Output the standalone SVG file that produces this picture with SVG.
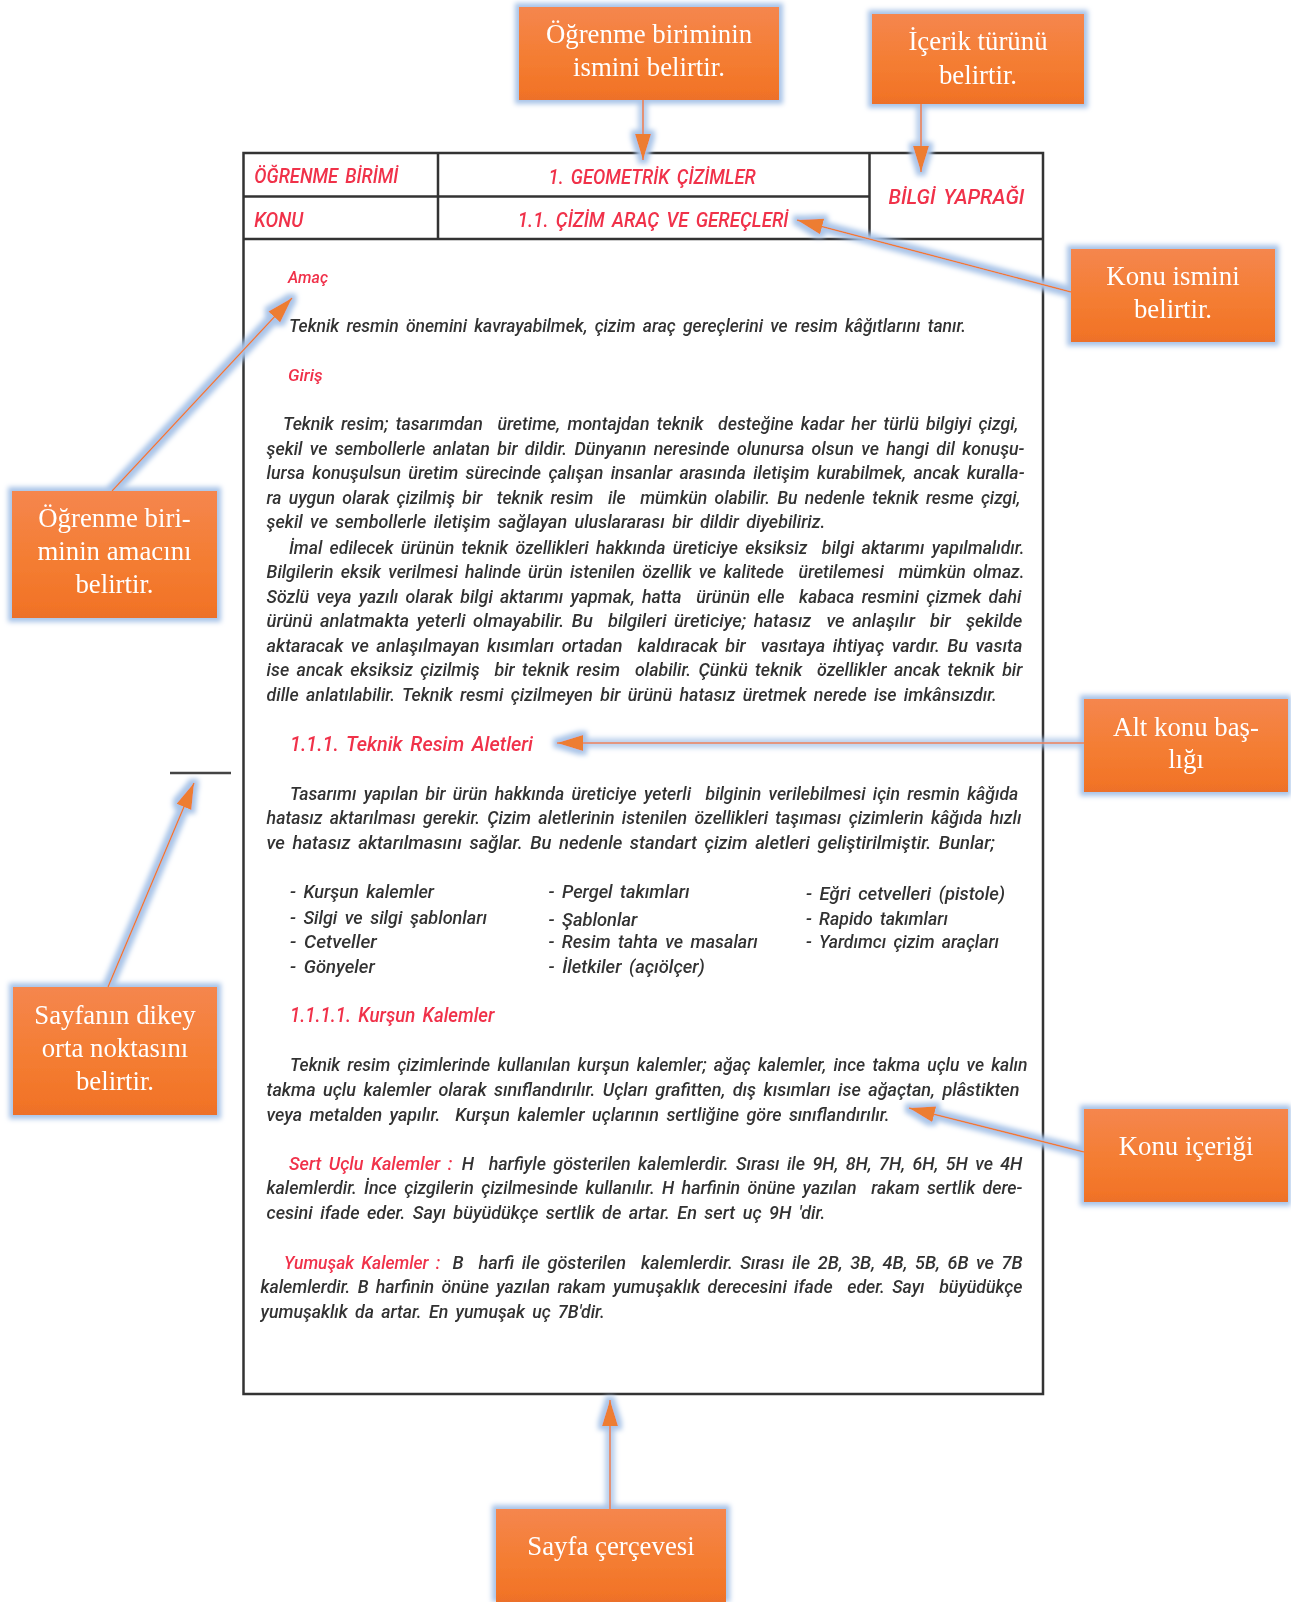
<svg xmlns="http://www.w3.org/2000/svg" width="1291" height="1602" viewBox="0 0 1291 1602">
<defs>
<linearGradient id="boxFill" x1="0" y1="0" x2="0" y2="1"><stop offset="0" stop-color="#f5864e"/><stop offset="0.55" stop-color="#f47d32"/><stop offset="0.9" stop-color="#f27428"/><stop offset="1" stop-color="#ec7029"/></linearGradient>
<filter id="glow" filterUnits="userSpaceOnUse" x="0" y="0" width="1291" height="1602">
<feMorphology in="SourceAlpha" operator="dilate" radius="4" result="d"/>
<feGaussianBlur in="d" stdDeviation="2.8" result="b"/>
<feFlood flood-color="#a9c4e8"/>
<feComposite in2="b" operator="in" result="g"/>
<feMerge><feMergeNode in="g"/><feMergeNode in="SourceGraphic"/></feMerge>
</filter>
<filter id="soft" x="-2%" y="-2%" width="104%" height="104%"><feGaussianBlur stdDeviation="0.4"/></filter>
<marker id="head" markerUnits="userSpaceOnUse" markerWidth="27" markerHeight="18" refX="26" refY="8" orient="auto"><path d="M0,0 L26,8 L0,16 Z" fill="#ed7d31"/></marker>
<clipPath id="outsideBoxes"><path clip-rule="evenodd" d="M0,0H1291V1602H0Z M519,7H779V100H519Z M872,14H1084V104H872Z M1071,249H1275V342H1071Z M12,491H217V618H12Z M1084,699H1288V792H1084Z M13,987H217V1115H13Z M1084,1109H1288V1202H1084Z M496,1509H726V1602H496Z"/></clipPath>
</defs>
<style>
.frame{fill:none;stroke:#333;stroke-width:2.5}
.conn{fill:none;stroke:#ed7d31;stroke-width:1.6;marker-end:url(#head)}
.box{fill:url(#boxFill)}
.lbl{font-family:"Liberation Serif","Times New Roman",serif;font-size:26.8px;fill:#fff;text-anchor:middle}
.t{font-family:Roboto,"Liberation Sans",sans-serif;font-style:italic;font-weight:500;font-size:18px;word-spacing:3px;fill:#333;white-space:pre}
.r{fill:#f0304a}
.h{font-size:21px;fill:#f0304a}
.s{font-size:16px}
</style>
<rect width="1291" height="1602" fill="#fff"/>
<g id="page-frame">
<path class="frame" d="M243.5,153 H1043 V1394 H243.5 Z"/>
<path class="frame" d="M243.5,196.5 H869.5 M243.5,239 H1043 M438,153 V239 M869.5,153 V239"/>
<path d="M170,773 H231" fill="none" stroke="#444" stroke-width="2.5"/>
</g>
<g id="page-text" filter="url(#soft)" transform="translate(0,1)">
<text class="t h" x="254.3" y="181.7" textLength="144" lengthAdjust="spacingAndGlyphs">ÖĞRENME BİRİMİ</text>
<text class="t h" x="548.5" y="182.7" textLength="207.3" lengthAdjust="spacingAndGlyphs">1. GEOMETRİK ÇİZİMLER</text>
<text class="t h" x="254.3" y="225.7" textLength="49" lengthAdjust="spacingAndGlyphs">KONU</text>
<text class="t h" x="517.8" y="225.7" textLength="270.7" lengthAdjust="spacingAndGlyphs">1.1. ÇİZİM ARAÇ VE GEREÇLERİ</text>
<text class="t h" x="888.6" y="203" textLength="135.8" lengthAdjust="spacingAndGlyphs">BİLGİ YAPRAĞI</text>
<text class="t r s" x="288" y="281.9" textLength="40" lengthAdjust="spacingAndGlyphs">Amaç</text>
<text class="t" x="289" y="330.9" textLength="677" lengthAdjust="spacingAndGlyphs">Teknik resmin önemini kavrayabilmek, çizim araç gereçlerini ve resim kâğıtlarını tanır.</text>
<text class="t r s" x="288" y="380" textLength="34.7" lengthAdjust="spacingAndGlyphs">Giriş</text>
<text class="t" x="283" y="429" textLength="735.4" lengthAdjust="spacingAndGlyphs">Teknik resim; tasarımdan  üretime, montajdan teknik  desteğine kadar her türlü bilgiyi çizgi,</text>
<text class="t" x="266.6" y="453.5" textLength="757.9" lengthAdjust="spacingAndGlyphs">şekil ve sembollerle anlatan bir dildir. Dünyanın neresinde olunursa olsun ve hangi dil konuşu-</text>
<text class="t" x="266.6" y="478" textLength="757.9" lengthAdjust="spacingAndGlyphs">lursa konuşulsun üretim sürecinde çalışan insanlar arasında iletişim kurabilmek, ancak kuralla-</text>
<text class="t" x="266.6" y="502.6" textLength="753.8" lengthAdjust="spacingAndGlyphs">ra uygun olarak çizilmiş bir  teknik resim  ile  mümkün olabilir. Bu nedenle teknik resme çizgi,</text>
<text class="t" x="266.6" y="527" textLength="558.7" lengthAdjust="spacingAndGlyphs">şekil ve sembollerle iletişim sağlayan uluslararası bir dildir diyebiliriz.</text>
<text class="t" x="289" y="552.6" textLength="735.4" lengthAdjust="spacingAndGlyphs">İmal edilecek ürünün teknik özellikleri hakkında üreticiye eksiksiz  bilgi aktarımı yapılmalıdır.</text>
<text class="t" x="266.6" y="577" textLength="757.9" lengthAdjust="spacingAndGlyphs">Bilgilerin eksik verilmesi halinde ürün istenilen özellik ve kalitede  üretilemesi  mümkün olmaz.</text>
<text class="t" x="266.6" y="601.7" textLength="754.8" lengthAdjust="spacingAndGlyphs">Sözlü veya yazılı olarak bilgi aktarımı yapmak, hatta  ürünün elle  kabaca resmini çizmek dahi</text>
<text class="t" x="266.6" y="626.2" textLength="755.8" lengthAdjust="spacingAndGlyphs">ürünü anlatmakta yeterli olmayabilir. Bu  bilgileri üreticiye; hatasız  ve anlaşılır  bir  şekilde</text>
<text class="t" x="266.6" y="650.7" textLength="755.8" lengthAdjust="spacingAndGlyphs">aktaracak ve anlaşılmayan kısımları ortadan  kaldıracak bir  vasıtaya ihtiyaç vardır. Bu vasıta</text>
<text class="t" x="266.6" y="675.2" textLength="755.8" lengthAdjust="spacingAndGlyphs">ise ancak eksiksiz çizilmiş  bir teknik resim  olabilir. Çünkü teknik  özellikler ancak teknik bir</text>
<text class="t" x="266.6" y="699.8" textLength="730.3" lengthAdjust="spacingAndGlyphs">dille anlatılabilir. Teknik resmi çizilmeyen bir ürünü hatasız üretmek nerede ise imkânsızdır.</text>
<text class="t h" x="290" y="750" textLength="243" lengthAdjust="spacingAndGlyphs">1.1.1. Teknik Resim Aletleri</text>
<text class="t" x="290" y="798.9" textLength="728.3" lengthAdjust="spacingAndGlyphs">Tasarımı yapılan bir ürün hakkında üreticiye yeterli  bilginin verilebilmesi için resmin kâğıda</text>
<text class="t" x="266.6" y="823.4" textLength="754.8" lengthAdjust="spacingAndGlyphs">hatasız aktarılması gerekir. Çizim aletlerinin istenilen özellikleri taşıması çizimlerin kâğıda hızlı</text>
<text class="t" x="266.6" y="847.9" textLength="728.3" lengthAdjust="spacingAndGlyphs">ve hatasız aktarılmasını sağlar. Bu nedenle standart çizim aletleri geliştirilmiştir. Bunlar;</text>
<text class="t" x="290" y="897" textLength="144" lengthAdjust="spacingAndGlyphs">- Kurşun kalemler</text>
<text class="t" x="290" y="922.5" textLength="197" lengthAdjust="spacingAndGlyphs">- Silgi ve silgi şablonları</text>
<text class="t" x="290" y="947" textLength="86.8" lengthAdjust="spacingAndGlyphs">- Cetveller</text>
<text class="t" x="290" y="971.5" textLength="84.8" lengthAdjust="spacingAndGlyphs">- Gönyeler</text>
<text class="t" x="548.5" y="897" textLength="141" lengthAdjust="spacingAndGlyphs">- Pergel takımları</text>
<text class="t" x="548.5" y="924.5" textLength="88.9" lengthAdjust="spacingAndGlyphs">- Şablonlar</text>
<text class="t" x="548.5" y="947" textLength="209.4" lengthAdjust="spacingAndGlyphs">- Resim tahta ve masaları</text>
<text class="t" x="548.5" y="971.5" textLength="156.3" lengthAdjust="spacingAndGlyphs">- İletkiler (açıölçer)</text>
<text class="t" x="805.9" y="899" textLength="199.2" lengthAdjust="spacingAndGlyphs">- Eğri cetvelleri (pistole)</text>
<text class="t" x="805.9" y="923.5" textLength="142" lengthAdjust="spacingAndGlyphs">- Rapido takımları</text>
<text class="t" x="805.9" y="947" textLength="193" lengthAdjust="spacingAndGlyphs">- Yardımcı çizim araçları</text>
<text class="t h" x="290" y="1021" textLength="204.3" lengthAdjust="spacingAndGlyphs">1.1.1.1. Kurşun Kalemler</text>
<text class="t" x="290" y="1069.6" textLength="737.5" lengthAdjust="spacingAndGlyphs">Teknik resim çizimlerinde kullanılan kurşun kalemler; ağaç kalemler, ince takma uçlu ve kalın</text>
<text class="t" x="266.6" y="1095.2" textLength="752.8" lengthAdjust="spacingAndGlyphs">takma uçlu kalemler olarak sınıflandırılır. Uçları grafitten, dış kısımları ise ağaçtan, plâstikten</text>
<text class="t" x="266.6" y="1119.7" textLength="623" lengthAdjust="spacingAndGlyphs">veya metalden yapılır.  Kurşun kalemler uçlarının sertliğine göre sınıflandırılır.</text>
<text class="t r" x="289" y="1168.7" textLength="163.4" lengthAdjust="spacingAndGlyphs">Sert Uçlu Kalemler :</text>
<text class="t" x="461.7" y="1168.7" textLength="560.7" lengthAdjust="spacingAndGlyphs">H  harfiyle gösterilen kalemlerdir. Sırası ile 9H, 8H, 7H, 6H, 5H ve 4H</text>
<text class="t" x="266.6" y="1193.2" textLength="755.8" lengthAdjust="spacingAndGlyphs">kalemlerdir. İnce çizgilerin çizilmesinde kullanılır. H harfinin önüne yazılan  rakam sertlik dere-</text>
<text class="t" x="266.6" y="1217.8" textLength="558.7" lengthAdjust="spacingAndGlyphs">cesini ifade eder. Sayı büyüdükçe sertlik de artar. En sert uç 9H 'dir.</text>
<text class="t r" x="284" y="1267.8" textLength="156.3" lengthAdjust="spacingAndGlyphs">Yumuşak Kalemler :</text>
<text class="t" x="452.5" y="1267.8" textLength="570" lengthAdjust="spacingAndGlyphs">B  harfi ile gösterilen  kalemlerdir. Sırası ile 2B, 3B, 4B, 5B, 6B ve 7B</text>
<text class="t" x="260.5" y="1292.3" textLength="762" lengthAdjust="spacingAndGlyphs">kalemlerdir. B harfinin önüne yazılan rakam yumuşaklık derecesini ifade  eder. Sayı  büyüdükçe</text>
<text class="t" x="260.5" y="1316.9" textLength="344.2" lengthAdjust="spacingAndGlyphs">yumuşaklık da artar. En yumuşak uç 7B'dir.</text>
</g>
<g id="node-birim" filter="url(#glow)"><rect class="box" x="519" y="7" width="260" height="93"/><text class="lbl" x="649" y="43">Öğrenme biriminin</text><text class="lbl" x="649" y="76">ismini belirtir.</text></g>
<g id="node-icerik" filter="url(#glow)"><rect class="box" x="872" y="14" width="212" height="90"/><text class="lbl" x="978" y="50">İçerik türünü</text><text class="lbl" x="978" y="84">belirtir.</text></g>
<g id="node-konu" filter="url(#glow)"><rect class="box" x="1071" y="249" width="204" height="93"/><text class="lbl" x="1173" y="285">Konu ismini</text><text class="lbl" x="1173" y="318">belirtir.</text></g>
<g id="node-amac" filter="url(#glow)"><rect class="box" x="12" y="491" width="205" height="127"/><text class="lbl" x="114.5" y="527">Öğrenme biri-</text><text class="lbl" x="114.5" y="560">minin amacını</text><text class="lbl" x="114.5" y="593">belirtir.</text></g>
<g id="node-altkonu" filter="url(#glow)"><rect class="box" x="1084" y="699" width="204" height="93"/><text class="lbl" x="1186" y="736">Alt konu baş-</text><text class="lbl" x="1186" y="768">lığı</text></g>
<g id="node-dikey" filter="url(#glow)"><rect class="box" x="13" y="987" width="204" height="128"/><text class="lbl" x="115" y="1024">Sayfanın dikey</text><text class="lbl" x="115" y="1057">orta noktasını</text><text class="lbl" x="115" y="1090">belirtir.</text></g>
<g id="node-icerigi" filter="url(#glow)"><rect class="box" x="1084" y="1109" width="204" height="93"/><text class="lbl" x="1186" y="1155">Konu içeriği</text></g>
<g id="node-cerceve" filter="url(#glow)"><rect class="box" x="496" y="1509" width="230" height="93"/><text class="lbl" x="611" y="1555">Sayfa çerçevesi</text></g>
<g id="connectors" clip-path="url(#outsideBoxes)"><g filter="url(#glow)">
<path class="conn" d="M643,100 V160"/>
<path class="conn" d="M921,104 V172"/>
<path class="conn" d="M1071,292 L797,220"/>
<path class="conn" d="M112,491 L292,298"/>
<path class="conn" d="M1084,743 H557"/>
<path class="conn" d="M108,987 L194,783"/>
<path class="conn" d="M1084,1152 L909,1108"/>
<path class="conn" d="M610,1509 V1400"/>
</g></g>
</svg>
